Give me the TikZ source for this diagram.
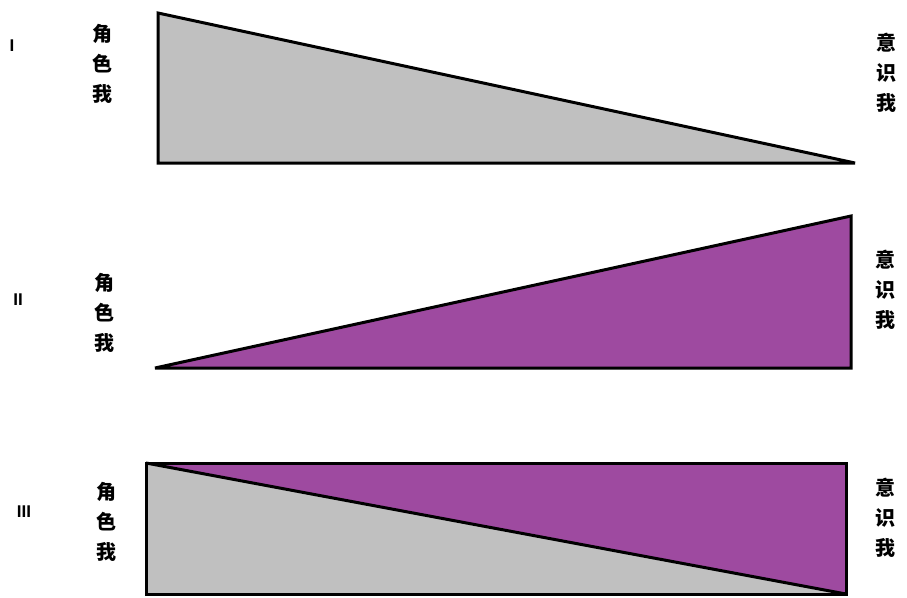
\documentclass[tikz,border=0pt]{standalone}
\usepackage{fontspec}
\newfontfamily\cjk{Noto Sans CJK SC}
\setmainfont{Liberation Sans}
\definecolor{shadegray}{HTML}{C0C0C0}
\definecolor{shadepurple}{HTML}{9E4AA0}
\tikzset{
  wedge/.style={draw=black,line width=3pt,line join=miter,miter limit=4},
  selflabel/.style={font=\cjk\bfseries\fontsize{20}{30}\selectfont,align=center,inner sep=0pt},
  stagelabel/.style={font=\bfseries\fontsize{17}{17}\selectfont,inner sep=0pt}
}
\begin{document}
\begin{tikzpicture}[x=1pt,y=-1pt]
  \useasboundingbox (0,0) rectangle (907,597);
  % I
  \filldraw[wedge,fill=shadegray] (158,13) -- (158,163) -- (855,163) -- cycle;
  \node[stagelabel] (n1) at (12,46) {I};
  \node[selflabel] (role1) at (102,64) {角\\色\\我};
  \node[selflabel] (aware1) at (886,73) {意\\识\\我};
  % II
  \filldraw[wedge,fill=shadepurple] (155,368) -- (851,216) -- (851,368) -- cycle;
  \node[stagelabel] (n2) at (18,300) {II};
  \node[selflabel] (role2) at (104,313) {角\\色\\我};
  \node[selflabel] (aware2) at (885,290) {意\\识\\我};
  % III
  \fill[shadegray] (146,463) -- (846,594) -- (146,594) -- cycle;
  \fill[shadepurple] (146,463) -- (846,463) -- (846,594) -- cycle;
  \draw[wedge] (146,463) rectangle (846,594);
  \draw[wedge] (146,463) -- (846,594);
  \node[stagelabel] (n3) at (24,512) {III};
  \node[selflabel] (role3) at (106,522) {角\\色\\我};
  \node[selflabel] (aware3) at (885,518) {意\\识\\我};
\end{tikzpicture}
\end{document}
